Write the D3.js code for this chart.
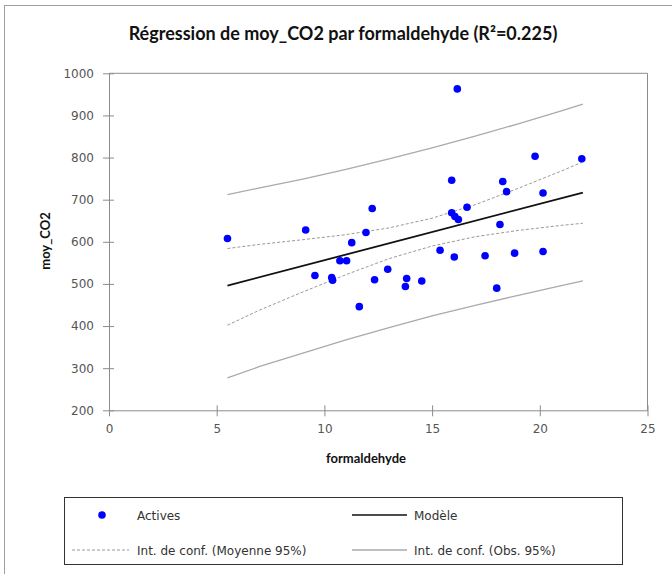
<!DOCTYPE html>
<html><head><meta charset="utf-8">
<script src="https://cdn.jsdelivr.net/npm/d3@7"></script>
<style>body{margin:0;background:#fff}svg{display:block}</style>
</head><body>
<svg id="c" width="672" height="574"></svg>
<script>
const formaldehyde = [5.5, 9.13, 9.56, 10.34, 10.38, 10.72, 11.03, 11.27, 11.62, 11.93, 12.22, 12.33, 12.94, 13.76, 13.82, 14.52, 15.37, 15.91, 15.91, 16.03, 16.06, 16.17, 16.22, 16.62, 17.46, 18.0, 18.15, 18.28, 18.46, 18.83, 19.78, 20.15, 20.15, 21.95];
const moyCO2 = [608, 628, 520, 515, 509, 555, 555, 598, 446, 622, 679, 510, 535, 494, 513, 507, 580, 669, 746, 564, 660, 963, 653, 682, 567, 490, 641, 743, 719, 573, 803, 716, 577, 797];
const modelX = [5.5, 22];
const modelY = [496, 717];
const bandX = [5.5, 7, 9, 11, 13, 15, 17, 19, 21, 22];
const meanUpper = [584, 594, 605, 617, 633, 656, 688, 727, 768, 790];
const meanLower = [402, 438, 481, 522, 560, 590, 612, 627, 639, 644];
const obsUpper = [712, 728, 749, 772, 797, 823, 851, 880, 911, 927];
const obsLower = [277, 304, 336, 367, 396, 424, 449, 473, 496, 507];
const xTicks = [0, 5, 10, 15, 20, 25];
const yTicks = [200, 300, 400, 500, 600, 700, 800, 900, 1000];
const title = "Régression de moy_CO2 par formaldehyde (R²=0.225)";

const svg = d3.select("#c");
const L = 109, R = 647.5, T = 73.3, B = 410.3;
const x = d3.scaleLinear().domain([0, 25]).range([L, R]);
const y = d3.scaleLinear().domain([200, 1000]).range([B, T]);
const axisColor = "#8c8c8c";

// outer border
svg.append("rect").attr("x", 4.5).attr("y", 5.5).attr("width", 700).attr("height", 700)
  .attr("fill", "none").attr("stroke", "#a0a0a0");

// title
svg.append("text").attr("x", 343).attr("y", 40).attr("text-anchor", "middle")
  .attr("font-family", "Lato, sans-serif").attr("font-weight", "bold").attr("font-size", 18)
  .attr("fill", "#111").text(title);

// frame top/right
svg.append("path").attr("d", `M${L},${T}H${R}V${B}`).attr("fill", "none").attr("stroke", axisColor);

// axes
const xa = svg.append("g").attr("transform", `translate(0,${B})`)
  .call(d3.axisBottom(x).tickValues(xTicks).tickSize(0).tickPadding(14).tickFormat(d3.format("d")));
xa.selectAll(".tick").append("line").attr("y1", -5).attr("y2", 6).attr("stroke", axisColor);
const ya = svg.append("g").attr("transform", `translate(${L},0)`)
  .call(d3.axisLeft(y).tickValues(yTicks).tickSize(0).tickPadding(15).tickFormat(d3.format("d")));
ya.selectAll(".tick").append("line").attr("x1", -6).attr("x2", 5).attr("stroke", axisColor);
[xa, ya].forEach(g => {
  g.select(".domain").attr("stroke", axisColor);
  g.selectAll("text").attr("font-family", "DejaVu Sans, sans-serif").attr("font-size", 12).attr("fill", "#555");
});

svg.append("text").attr("x", 366).attr("y", 463).attr("text-anchor", "middle")
  .attr("font-family", "Lato, sans-serif").attr("font-weight", "bold").attr("font-size", 13)
  .attr("fill", "#111").text("formaldehyde");
svg.append("text").attr("transform", "translate(50,241) rotate(-90)").attr("text-anchor", "middle")
  .attr("font-family", "Lato, sans-serif").attr("font-weight", "bold").attr("font-size", 13)
  .attr("fill", "#111").text("moy_CO2");

const line = d3.line().x(d => x(d[0])).y(d => y(d[1]));
const drawBand = (vals, stroke, dash, w) => svg.append("path")
  .attr("d", line(bandX.map((v, i) => [v, vals[i]])))
  .attr("fill", "none").attr("stroke", stroke).attr("stroke-width", w).attr("stroke-dasharray", dash);

drawBand(obsUpper, "#aaaaaa", null, 1.3);
drawBand(obsLower, "#aaaaaa", null, 1.3);
drawBand(meanUpper, "#999999", "3,2", 1);
drawBand(meanLower, "#999999", "3,2", 1);

svg.append("path").attr("d", line(modelX.map((v, i) => [v, modelY[i]])))
  .attr("fill", "none").attr("stroke", "#111").attr("stroke-width", 1.8);

svg.append("g").selectAll("circle").data(formaldehyde.map((v, i) => [v, moyCO2[i]]))
  .join("circle").attr("cx", d => x(d[0])).attr("cy", d => y(d[1])).attr("r", 3.8).attr("fill", "#0000ff");

// legend
const lg = svg.append("g");
lg.append("rect").attr("x", 64.5).attr("y", 497.5).attr("width", 558).attr("height", 67)
  .attr("fill", "#fff").attr("stroke", "#333");
const r1 = 515, r2 = 550;
lg.append("circle").attr("cx", 102).attr("cy", r1).attr("r", 3.8).attr("fill", "#0000ff");
lg.append("line").attr("x1", 352).attr("x2", 407).attr("y1", r1).attr("y2", r1).attr("stroke", "#111").attr("stroke-width", 1.5);
lg.append("line").attr("x1", 72).attr("x2", 129).attr("y1", r2).attr("y2", r2).attr("stroke", "#999").attr("stroke-dasharray", "3,2");
lg.append("line").attr("x1", 352).attr("x2", 407).attr("y1", r2).attr("y2", r2).attr("stroke", "#aaa").attr("stroke-width", 1.3);
const lt = [[137, r1, "Actives"], [414, r1, "Modèle"], [137, r2, "Int. de conf. (Moyenne 95%)"], [414, r2, "Int. de conf. (Obs. 95%)"]];
lg.selectAll("text.l").data(lt).join("text").attr("class", "l")
  .attr("x", d => d[0]).attr("y", d => d[1] + 4.5)
  .attr("font-family", "DejaVu Sans, sans-serif").attr("font-size", 12).attr("fill", "#333")
  .text(d => d[2]);
</script>
</body></html>
